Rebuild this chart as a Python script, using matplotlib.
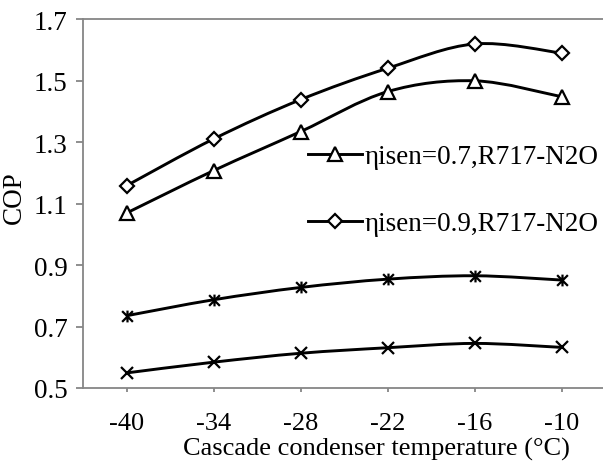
import numpy as np
import matplotlib
matplotlib.use("Agg")
import matplotlib.pyplot as plt
from matplotlib.path import Path
from matplotlib.patches import PathPatch
from matplotlib.lines import Line2D

# data
temps = ["-40", "-34", "-28", "-22", "-16", "-10"]
cop_07_n2o = [1.069, 1.207, 1.334, 1.464, 1.499, 1.447]
cop_09_n2o = [1.158, 1.31, 1.438, 1.540, 1.619, 1.589]
cop_star = [0.735, 0.787, 0.827, 0.854, 0.865, 0.851]
cop_cross = [0.549, 0.584, 0.613, 0.631, 0.645, 0.632]

plt.rcParams['font.family'] = ['Liberation Serif', 'DejaVu Serif']
plt.rcParams['font.size'] = 19.5

GRAY = '#868686'


def smooth_line(xs, ys):
    """Excel-like smoothed line as a cubic bezier path."""
    pts = np.column_stack([xs, ys]).astype(float)
    verts = [pts[0]]
    codes = [Path.MOVETO]
    n = len(pts)
    for i in range(n - 1):
        p0 = pts[i - 1] if i > 0 else pts[i]
        p1, p2 = pts[i], pts[i + 1]
        p3 = pts[i + 2] if i + 2 < n else pts[i + 1]
        verts += [p1 + (p2 - p0) / 6, p2 - (p3 - p1) / 6, p2]
        codes += [Path.CURVE4] * 3
    return Path(verts, codes)


star = Path([(-1, -1), (1, 1), (-1, 1), (1, -1), (0, -1.1), (0, 1.1)],
            [Path.MOVETO, Path.LINETO] * 3)

fig = plt.figure(figsize=(6.03, 4.64), dpi=100)
ax = fig.add_axes([83 / 603, 1 - 389 / 464, 1 - 83 / 603, (389 - 20) / 464])

x = np.arange(len(temps))
series = [
    (cop_07_n2o, dict(marker='^', ms=10, mfc='white')),
    (cop_09_n2o, dict(marker='D', ms=7, mfc='white')),
    (cop_star, dict(marker=star, ms=8.5)),
    (cop_cross, dict(marker='x', ms=8.5)),
]
for ys, style in series:
    ax.add_patch(PathPatch(smooth_line(x, ys), fill=False, ec='black', lw=2.1, zorder=2))
    ax.plot(x, ys, ls='none', color='black', mec='black', mew=1.6, zorder=3, **style)

ax.set_xlim(-0.5, (603 - 127) / 87)
ax.set_ylim(0.5, 1.7)
ax.set_yticks(np.arange(0.5, 1.71, 0.2))
ax.set_yticklabels([f"{v:.1f}" for v in np.arange(0.5, 1.71, 0.2)])
ax.set_xticks(x)
ax.set_xticklabels(temps)

ax.spines['right'].set_visible(False)
for side in ['left', 'bottom', 'top']:
    ax.spines[side].set_color(GRAY)
    ax.spines[side].set_linewidth(1.3)
ax.tick_params(axis='y', direction='out', length=5, width=1.3, color=GRAY, pad=6)
ax.tick_params(axis='x', direction='out', length=3, width=1.3, color=GRAY, pad=14,
               labelsize=19)

ax.set_xlabel('Cascade condenser temperature (°C)', fontsize=19)
ax.xaxis.set_label_coords((376 - 83) / 520, (389 - 438) / 369)
ax.set_ylabel('COP')
ax.yaxis.set_label_coords((27 - 83) / 520, (389 - 198) / 369)

handles = [
    Line2D([], [], color='black', lw=2.1, marker='^', ms=10, mfc='white', mec='black', mew=1.6),
    Line2D([], [], color='black', lw=2.1, marker='D', ms=7, mfc='white', mec='black', mew=1.6),
]
labels = ['ηisen=0.7,R717-N2O', 'ηisen=0.9,R717-N2O']
ax.legend(handles, labels, loc='upper left', bbox_to_anchor=(308 / 603, 1 - 145 / 464),
          bbox_transform=fig.transFigure, frameon=False, numpoints=1,
          handlelength=2.0, handletextpad=0.1, labelspacing=1.55, borderpad=0, borderaxespad=0)

fig.savefig('out.png', dpi=100)
